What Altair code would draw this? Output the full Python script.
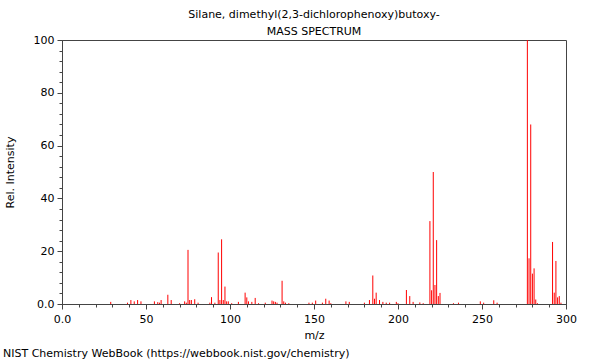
import altair as alt
import pandas as pd

# m/z positions and relative intensities
mz = [29, 39, 41, 43, 45, 47, 55, 57, 58, 59, 63, 65, 70, 73, 74, 75, 76, 77, 79, 81,
      88, 89, 91, 93, 94, 95, 96, 97, 98, 99, 101, 105, 109, 110, 111, 113, 115, 117,
      121, 125, 126, 127, 128, 131, 132, 133, 135, 147, 149, 151, 155, 157, 159, 160,
      169, 171, 180, 183, 185, 186, 187, 189, 191, 193, 195, 199, 200, 205, 207, 209,
      213, 215, 219, 220, 221, 222, 223, 224, 225, 233, 236, 249, 251, 257, 259,
      277, 278, 279, 280, 281, 282, 283, 292, 293, 294, 295, 296, 297]
intensity = [0.8, 0.5, 1.5, 1.0, 1.5, 1.0, 1.0, 0.7, 0.5, 1.5, 3.5, 1.5, 0.3, 1.0, 0.5, 20.5, 1.5, 1.5, 1.8, 0.5,
             0.5, 2.6, 0.5, 19.5, 1.5, 24.5, 1.5, 6.6, 1.0, 1.0, 0.3, 0.8, 4.3, 2.5, 1.0, 0.8, 2.3, 0.3,
             0.5, 1.3, 1.0, 0.8, 0.5, 8.8, 1.0, 0.5, 0.3, 0.5, 0.5, 1.3, 0.5, 2.0, 1.3, 0.3,
             1.0, 0.8, 0.5, 1.5, 10.8, 2.0, 4.3, 1.5, 0.8, 0.5, 0.5, 0.8, 0.3, 5.3, 3.0, 0.8,
             0.6, 0.3, 31.4, 5.2, 50.0, 7.2, 24.2, 3.0, 4.2, 0.3, 0.5, 1.0, 0.5, 1.4, 0.5,
             100.0, 17.3, 68.0, 11.5, 13.5, 1.7, 0.3, 23.5, 4.3, 16.3, 2.5, 3.0, 0.5]

x_major = [0, 50, 100, 150, 200, 250, 300]
x_minor = list(range(0, 301, 10))
y_major = [0, 20, 40, 60, 80, 100]
y_minor = list(range(0, 101, 4))

title_lines = ["Silane, dimethyl(2,3-dichlorophenoxy)butoxy-", "MASS SPECTRUM"]
footer = ["NIST Chemistry WebBook (https://webbook.nist.gov/chemistry)"]

df = pd.DataFrame({"mz": mz, "intensity": intensity})
FONT = "DejaVu Sans"

xscale = alt.Scale(domain=[0, 300], nice=False, zero=False)
yscale = alt.Scale(domain=[0, 100], nice=False)

peaks = alt.Chart(df).mark_rule(color="#ff0000", strokeWidth=1).encode(
    x=alt.X("mz:Q", scale=xscale,
            axis=alt.Axis(values=x_major, orient="bottom", title="m/z",
                          labelExpr="datum.value == 0 ? '0.0' : datum.label",
                          labelFlush=False, tickSize=5, labelPadding=4,
                          titlePadding=5, grid=False)),
    y=alt.Y("intensity:Q", scale=yscale,
            axis=alt.Axis(values=y_major, orient="left", title="Rel. Intensity",
                          labelExpr="datum.value == 0 ? '0.0' : datum.label",
                          labelFlush=False, tickSize=5, labelPadding=3,
                          titlePadding=18, grid=False)),
    y2=alt.datum(0),
)

minor = alt.Chart(df).mark_point(opacity=0).encode(
    x=alt.X("mz:Q", scale=xscale,
            axis=alt.Axis(values=x_minor, orient="bottom", labels=False, title=None,
                          domain=False, tickSize=3, grid=False)),
    y=alt.Y("intensity:Q", scale=yscale,
            axis=alt.Axis(values=y_minor, orient="left", labels=False, title=None,
                          domain=False, tickSize=3, grid=False)),
)

foot = alt.Chart(pd.DataFrame({"t": footer})).mark_text(
    align="left", baseline="middle", fontSize=11, font=FONT, color="black"
).encode(x=alt.value(-59), y=alt.value(313.5), text="t:N")

chart = alt.layer(minor, peaks, foot).resolve_axis(x="independent", y="independent").properties(
    width=504, height=264,
    title=alt.Title(title_lines, fontSize=11, fontWeight="normal", font=FONT, color="black",
                    lineHeight=17, offset=-3, anchor="middle"),
    autosize=alt.AutoSizeParams(type="none"),
    padding={"left": 62, "top": 40, "right": 34, "bottom": 56},
).configure_view(stroke="#444", strokeWidth=1).configure_axis(
    labelFont=FONT, titleFont=FONT, labelFontSize=11, titleFontSize=11,
    labelColor="black", titleColor="black", domainColor="#444", tickColor="#444",
    titleFontWeight="normal",
)

chart.save("out.html", embed_options={"renderer": "svg", "actions": False})
